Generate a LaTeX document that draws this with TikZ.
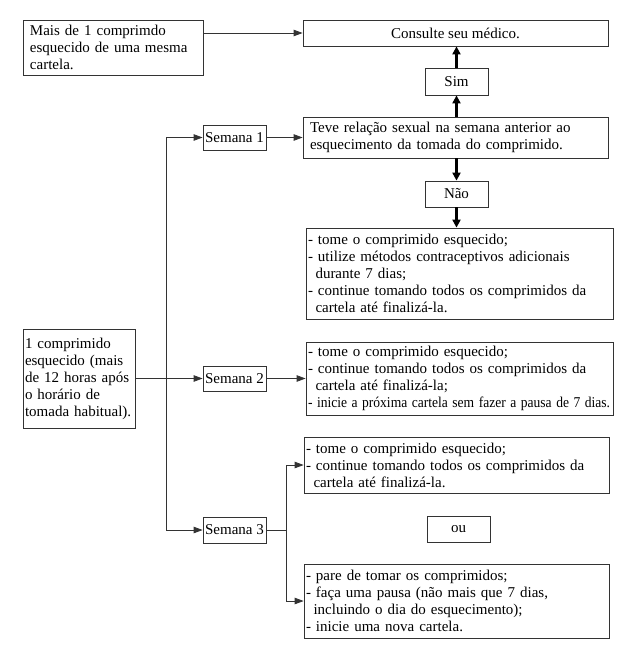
\documentclass[tikz,border=0pt]{standalone}
\usepackage{fontspec}
\usepackage{graphicx}
\setmainfont{Liberation Serif}
\usetikzlibrary{arrows.meta}
\begin{document}
\begin{tikzpicture}[x=1pt,y=-1pt,
  every node/.style={font=\fontsize{15}{17}\selectfont},
  box/.style={draw=black!80, line width=0.8pt, rectangle, inner xsep=2pt, inner ysep=0pt, align=left, anchor=center},
  cbox/.style={box, align=center},
  arr/.style={draw=black!80, line width=0.8pt, -{Triangle[length=9pt,width=6.5pt]}},
  barr/.style={draw=black, line width=2.4pt, -{Triangle[length=8pt,width=8pt]}},
  ln/.style={draw=black!80, line width=0.8pt}]
\useasboundingbox (0,0) rectangle (624,649);
\def\ind{\hspace*{0.5em}}
\node[box, minimum width=180pt, minimum height=55pt, text width=166pt, inner xsep=7pt] (A) at (113,47.5)
  {Mais de 1 comprimdo\\esquecido de uma mesma\\cartela.};
\node[cbox, minimum width=305pt, minimum height=26pt] (consult) at (455.5,33) {Consulte seu médico.};
\node[cbox, minimum width=63pt, minimum height=27pt] (sim) at (456.5,81.5) {Sim};
\node[box, minimum width=305pt, minimum height=41pt, text width=291pt, inner xsep=7pt] (teve) at (455.5,137.5)
  {Teve relação sexual na semana anterior ao\\esquecimento da tomada do comprimido.};
\node[cbox, minimum width=63pt, minimum height=26pt] (nao) at (456.5,194) {Não};
\node[box, minimum width=307pt, minimum height=91pt, text width=303pt] (b1) at (459.5,273.5)
  {- tome o comprimido esquecido;\\\makebox[296pt][s]{- utilize métodos contraceptivos adicionais}\\\ind durante 7 dias;\\\makebox[296pt][s]{- continue tomando todos os comprimidos da}\\\ind cartela até finalizá-la.};
\node[box, minimum width=307pt, minimum height=73pt, text width=303pt] (b2) at (459.5,378.5)
  {- tome o comprimido esquecido;\\\makebox[290pt][s]{- continue tomando todos os comprimidos da}\\\ind cartela até finalizá-la;\\\resizebox{302pt}{\height}{- inicie a próxima cartela sem fazer a pausa de 7 dias.}};
\node[cbox, minimum width=63pt, minimum height=25pt, inner xsep=0pt] (sem1) at (234.5,137.5) {Semana 1};
\node[cbox, minimum width=63pt, minimum height=25pt, inner xsep=0pt] (sem2) at (234.5,378.5) {Semana 2};
\node[cbox, minimum width=63pt, minimum height=26pt, inner xsep=0pt] (sem3) at (234.5,530) {Semana 3};
\node[box, minimum width=112pt, minimum height=99pt, text width=108pt] (comp) at (79,378.5)
  {1 comprimido\\esquecido (mais\\de 12 horas após\\o horário de\\tomada habitual).};
\node[box, minimum width=305pt, minimum height=56pt, text width=301pt] (b3) at (456.5,465)
  {- tome o comprimido esquecido;\\\makebox[284pt][s]{- continue tomando todos os comprimidos da}\\\ind cartela até finalizá-la.};
\node[cbox, minimum width=63pt, minimum height=26pt] (ou) at (458.5,529) {ou};
\node[box, minimum width=305pt, minimum height=74pt, text width=301pt] (b4) at (456.5,601)
  {- pare de tomar os comprimidos;\\- faça uma pausa (não mais que 7 dias,\\\ind incluindo o dia do esquecimento);\\- inicie uma nova cartela.};
\coordinate (trunk) at (166,0);
\coordinate (br) at (286,530);
% connectors
\draw[arr] (consult.west -| A.east) -- (consult.west);
\draw[barr] (sim.south |- teve.north) -- (sim.south);
\draw[barr] (sim.north) -- (sim.north |- consult.south);
\draw[barr] (nao.north |- teve.south) -- (nao.north);
\draw[barr] (nao.south) -- (nao.south |- b1.north);
\draw[arr] (sem1.east) -- (teve.west);
\draw[arr] (trunk |- sem3.west) -- (trunk |- sem1.west) -- (sem1.west);
\draw[arr] (trunk |- sem3.west) -- (sem3.west);
\draw[arr] (comp.east) -- (sem2.west);
\draw[arr] (sem2.east) -- (b2.west);
\draw[ln] (sem3.east) -- (br);
\draw[arr] (br) -- (br |- b3.west) -- (b3.west);
\draw[arr] (br) -- (br |- b4.west) -- (b4.west);
\end{tikzpicture}
\end{document}
